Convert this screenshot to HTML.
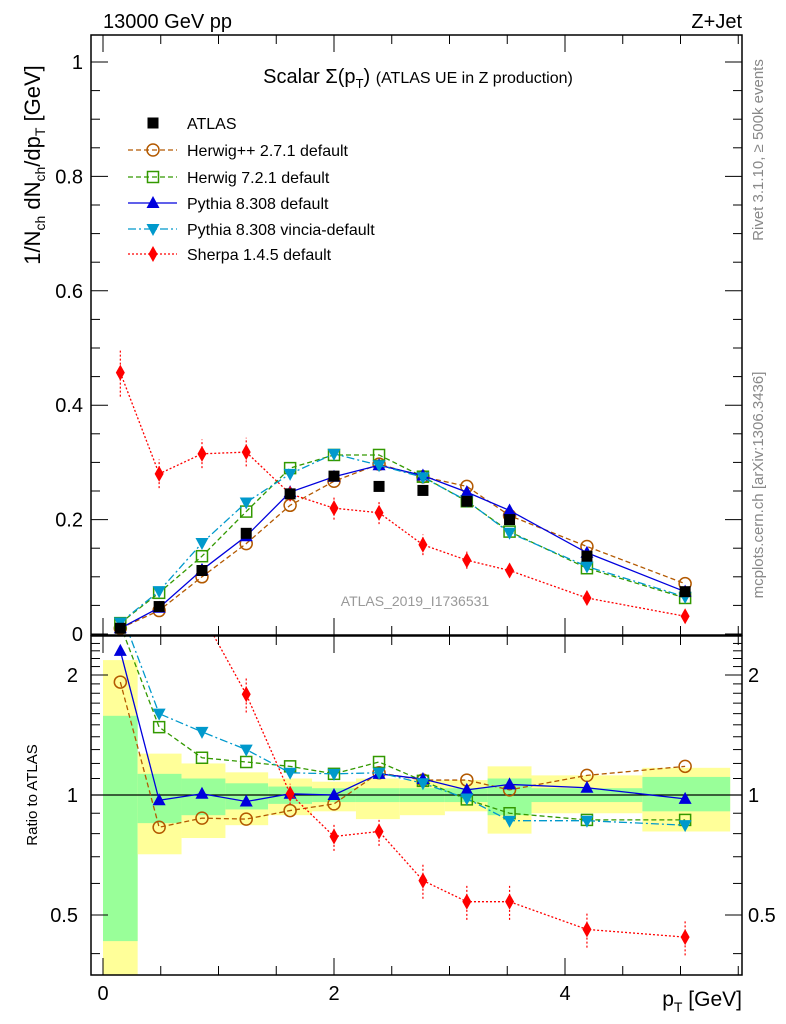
<!DOCTYPE html>
<html><head><meta charset="utf-8"><style>
html,body{margin:0;padding:0;background:#fff;}
svg{display:block;font-family:"Liberation Sans",Arial,sans-serif;}
</style></head><body>
<svg id="chart" width="786" height="1024" viewBox="0 0 786 1024" xmlns="http://www.w3.org/2000/svg">
<defs>
<clipPath id="clipMain"><rect x="91" y="35" width="651" height="600"/></clipPath>
<clipPath id="clipRatio"><rect x="91" y="636" width="651" height="339"/></clipPath>
</defs>
<g id="bands"></g>
<g id="series"></g>
<g id="axes"></g>
<text x="103" y="28" font-size="20">13000 GeV pp</text>
<text x="742" y="28" font-size="20" text-anchor="end">Z+Jet</text>
<text x="418" y="83" font-size="20" text-anchor="middle">Scalar Σ(p<tspan font-size="13" dy="5">T</tspan><tspan dy="-5">) </tspan><tspan font-size="16">(ATLAS UE in Z production)</tspan></text>
<text x="415" y="606" font-size="14" fill="#999" text-anchor="middle">ATLAS_2019_I1736531</text>
<text transform="translate(763,150) rotate(-90)" font-size="15" fill="#888" text-anchor="middle">Rivet 3.1.10, ≥ 500k events</text>
<text transform="translate(763,485) rotate(-90)" font-size="15" fill="#888" text-anchor="middle">mcplots.cern.ch [arXiv:1306.3436]</text>
<text transform="translate(40,165) rotate(-90)" font-size="22" text-anchor="middle">1/N<tspan font-size="14" dy="5">ch</tspan><tspan dy="-5"> dN</tspan><tspan font-size="14" dy="5">ch</tspan><tspan dy="-5">/dp</tspan><tspan font-size="14" dy="5">T</tspan><tspan dy="-5"> [GeV]</tspan></text>
<text transform="translate(37,795) rotate(-90)" font-size="15" text-anchor="middle">Ratio to ATLAS</text>
<text x="742" y="1006" font-size="21" text-anchor="end">p<tspan font-size="14" dy="6">T</tspan><tspan dy="-6"> [GeV]</tspan></text>
<g id="legend"></g>
</svg>
<script>
const xCenters=[0.15,0.486,0.857,1.24,1.62,2.0,2.39,2.77,3.15,3.52,4.19,5.04];
const binEdges=[0,0.30,0.68,1.06,1.43,1.81,2.19,2.57,2.96,3.33,3.71,4.67,5.43];
const atlas=[0.01,0.048,0.111,0.176,0.245,0.276,0.258,0.251,0.232,0.2,0.136,0.074];
const herwigpp=[0.01,0.041,0.1,0.158,0.225,0.267,0.297,0.275,0.258,0.207,0.153,0.088];
const herwig7=[0.019,0.072,0.136,0.214,0.29,0.313,0.313,0.275,0.232,0.179,0.115,0.063];
const pythia=[0.01,0.046,0.112,0.171,0.248,0.275,0.295,0.277,0.248,0.216,0.142,0.074];
const vincia=[0.02,0.075,0.159,0.23,0.28,0.315,0.295,0.274,0.233,0.177,0.118,0.065];
const sherpa=[0.457,0.28,0.315,0.318,0.245,0.22,0.212,0.156,0.129,0.111,0.063,0.031];
const sherpaErr=[0.042,0.025,0.025,0.025,0.012,0.02,0.02,0.018,0.015,0.012,0.006,0.005];
const rHerwigpp=[1.92,0.83,0.875,0.87,0.914,0.95,1.137,1.09,1.09,1.03,1.12,1.18];
const rHerwig7=[2.67,1.48,1.24,1.21,1.18,1.13,1.21,1.085,0.975,0.9,0.866,0.866];
const rPythia=[2.3,0.97,1.007,0.963,1.007,1.0,1.13,1.097,1.03,1.063,1.043,0.978];
const rVincia=[2.9,1.6,1.44,1.3,1.137,1.13,1.137,1.07,0.98,0.862,0.862,0.84];
const rSherpa=[45,5.8,2.84,1.79,1.007,0.787,0.81,0.61,0.54,0.54,0.46,0.44];
const rSherpaErr=[0.1,0.1,0.1,0.1,0.06,0.08,0.08,0.1,0.1,0.1,0.1,0.1];
const statUp=[1.58,1.13,1.1,1.07,1.05,1.04,1.04,1.04,1.04,1.1,1.04,1.11];
const statDn=[0.43,0.85,0.89,0.92,0.95,0.96,0.96,0.96,0.96,0.89,0.96,0.91];
const totUp=[2.18,1.27,1.2,1.14,1.1,1.08,1.1,1.09,1.09,1.18,1.12,1.17];
const totDn=[0.3,0.71,0.78,0.84,0.89,0.91,0.87,0.89,0.91,0.8,0.9,0.81];
const xTicks=[0,2,4];
const yTicks=[0,0.2,0.4,0.6,0.8,1];
const rTicks=[0.5,1,2];

const NS="http://www.w3.org/2000/svg";
const X=v=>103+v*115.5;
const Y=v=>634-v*572;
const R=v=>795-398.6*Math.log10(v);
const L=[91,742],MT=35,MB=635,RT=636,RB=975;
function mk(tag,attrs,parent){const e=document.createElementNS(NS,tag);for(const k in attrs)e.setAttribute(k,attrs[k]);parent.appendChild(e);return e;}
const bands=document.getElementById('bands'),series=document.getElementById('series'),axes=document.getElementById('axes'),legend=document.getElementById('legend');

for(let i=0;i<xCenters.length;i++){
  const y1=Math.max(R(totUp[i]),RT),y2=Math.min(R(totDn[i]),RB);
  const b=mk('rect',{x:X(binEdges[i]),y:y1,width:X(binEdges[i+1])-X(binEdges[i]),height:y2-y1,fill:'#ffff99'},bands);
  
  
  const g1=Math.max(R(statUp[i]),RT),g2=Math.min(R(statDn[i]),RB);
  const g=mk('rect',{x:X(binEdges[i]),y:g1,width:X(binEdges[i+1])-X(binEdges[i]),height:g2-g1,fill:'#99ff99'},bands);
  
  
}

function marker(type,x,y,color,parent){
  let e;
  if(type==='sq') e=mk('rect',{x:x-5.5,y:y-5.5,width:11,height:11,fill:color},parent);
  else if(type==='osq') e=mk('rect',{x:x-5.5,y:y-5.5,width:11,height:11,fill:'none',stroke:color,'stroke-width':1.5},parent);
  else if(type==='oc') e=mk('circle',{cx:x,cy:y,r:6,fill:'none',stroke:color,'stroke-width':1.5},parent);
  else if(type==='tu') e=mk('polygon',{points:`${x},${y-7} ${x-6.5},${y+5} ${x+6.5},${y+5}`,fill:color},parent);
  else if(type==='td') e=mk('polygon',{points:`${x},${y+7} ${x-6.5},${y-5} ${x+6.5},${y-5}`,fill:color},parent);
  else if(type==='dm') e=mk('polygon',{points:`${x},${y-8} ${x-4.5},${y} ${x},${y+8} ${x+4.5},${y}`,fill:color},parent);
  return e;
}
const cfg=[
 {name:'herwigpp',label:'Herwig++ 2.7.1 default',data:herwigpp,ratio:rHerwigpp,color:'#b35900',m:'oc',dash:'5,3'},
 {name:'herwig7',label:'Herwig 7.2.1 default',data:herwig7,ratio:rHerwig7,color:'#339900',m:'osq',dash:'5,3'},
 {name:'pythia',label:'Pythia 8.308 default',data:pythia,ratio:rPythia,color:'#0000dd',m:'tu',dash:''},
 {name:'vincia',label:'Pythia 8.308 vincia-default',data:vincia,ratio:rVincia,color:'#0099cc',m:'td',dash:'8,3,2,3'},
 {name:'sherpa',label:'Sherpa 1.4.5 default',data:sherpa,ratio:rSherpa,color:'#ff0000',m:'dm',dash:'2,2',err:sherpaErr,rerr:rSherpaErr}
];
const ref=mk('line',{x1:L[0],x2:L[1],y1:R(1),y2:R(1),stroke:'#000','stroke-width':1.2},series);



cfg.forEach(s=>{
  const gm=mk('g',{'clip-path':'url(#clipMain)'},series);
  
  
  const pts=s.data.map((v,i)=>X(xCenters[i])+','+Y(v)).join(' ');
  mk('polyline',{points:pts,fill:'none',stroke:s.color,'stroke-width':1.3,'stroke-dasharray':s.dash},gm);
  s.data.forEach((v,i)=>{
    if(s.err) mk('line',{x1:X(xCenters[i]),x2:X(xCenters[i]),y1:Y(v-s.err[i]),y2:Y(v+s.err[i]),stroke:s.color,'stroke-width':1.2,'stroke-dasharray':'2,2'},gm);
    const m=marker(s.m,X(xCenters[i]),Y(v),s.color,gm);
    
    
  });
  const gr=mk('g',{'clip-path':'url(#clipRatio)'},series);
  
  
  const rp=s.ratio.map((v,i)=>X(xCenters[i])+','+R(v)).join(' ');
  mk('polyline',{points:rp,fill:'none',stroke:s.color,'stroke-width':1.3,'stroke-dasharray':s.dash},gr);
  s.ratio.forEach((v,i)=>{
    if(s.rerr) mk('line',{x1:X(xCenters[i]),x2:X(xCenters[i]),y1:R(v*(1-s.rerr[i])),y2:R(v*(1+s.rerr[i])),stroke:s.color,'stroke-width':1.2,'stroke-dasharray':'2,2'},gr);
    const m=marker(s.m,X(xCenters[i]),R(v),s.color,gr);
    
    
  });
});
const ga=mk('g',{'clip-path':'url(#clipMain)'},series);


atlas.forEach((v,i)=>{
  const m=marker('sq',X(xCenters[i]),Y(v),'#000',ga);
  
  
});

mk('rect',{x:L[0],y:MT,width:L[1]-L[0],height:MB-MT,fill:'none',stroke:'#000','stroke-width':1.5},axes);
mk('rect',{x:L[0],y:RT,width:L[1]-L[0],height:RB-RT,fill:'none',stroke:'#000','stroke-width':1.5},axes);
for(let k=0;k<=21;k++){const v=k*0.05;const y=Y(v);if(y<MT)continue;const len=(k%4===0)?17:9;
  mk('line',{x1:L[0],x2:L[0]+len,y1:y,y2:y,stroke:'#000','stroke-width':1},axes);
  mk('line',{x1:L[1],x2:L[1]-len,y1:y,y2:y,stroke:'#000','stroke-width':1},axes);}
yTicks.forEach(v=>{const t=mk('text',{x:83,y:Y(v)+7,'font-size':20,'text-anchor':'end'},axes);t.textContent=String(v);
  });
for(let k=0;k<=11;k++){const v=k*0.5;const x=X(v);const len=(k%4===0)?17:9;
  [[MT,1],[MB,-1],[RT,1],[RB,-1]].forEach(([y0,d])=>mk('line',{x1:x,x2:x,y1:y0,y2:y0+d*len,stroke:'#000','stroke-width':1},axes));}
xTicks.forEach(v=>{const t=mk('text',{x:X(v),y:1000,'font-size':20,'text-anchor':'middle'},axes);t.textContent=String(v);
  });
const rminor=[0.4,0.5,0.6,0.7,0.8,0.9,1,1.1,1.2,1.3,1.4,1.5,1.6,1.7,1.8,1.9,2,2.1,2.2,2.3,2.4];
rminor.forEach(v=>{const y=R(v);const len=rTicks.includes(v)?17:9;
  mk('line',{x1:L[0],x2:L[0]+len,y1:y,y2:y,stroke:'#000','stroke-width':1},axes);
  mk('line',{x1:L[1],x2:L[1]-len,y1:y,y2:y,stroke:'#000','stroke-width':1},axes);});
rTicks.forEach(v=>{
  const t=mk('text',{x:78,y:R(v)+7,'font-size':20,'text-anchor':'end'},axes);t.textContent=String(v);
  
  const t2=mk('text',{x:748,y:R(v)+7,'font-size':20},axes);t2.textContent=String(v);
  });

const ly=[123,150,177,203,229,254];
const le0=mk('g',{},legend);


marker('sq',153,ly[0],'#000',le0);
const t0=mk('text',{x:187,y:ly[0]+6,'font-size':16},le0);t0.textContent='ATLAS';
cfg.forEach((s,i)=>{
  const g=mk('g',{},legend);
  
  
  const y=ly[i+1];
  mk('line',{x1:128,x2:177,y1:y,y2:y,stroke:s.color,'stroke-width':1.3,'stroke-dasharray':s.dash},g);
  marker(s.m,153,y,s.color,g);
  const t=mk('text',{x:187,y:y+6,'font-size':16},g);t.textContent=s.label;
});
</script>
</body></html>
